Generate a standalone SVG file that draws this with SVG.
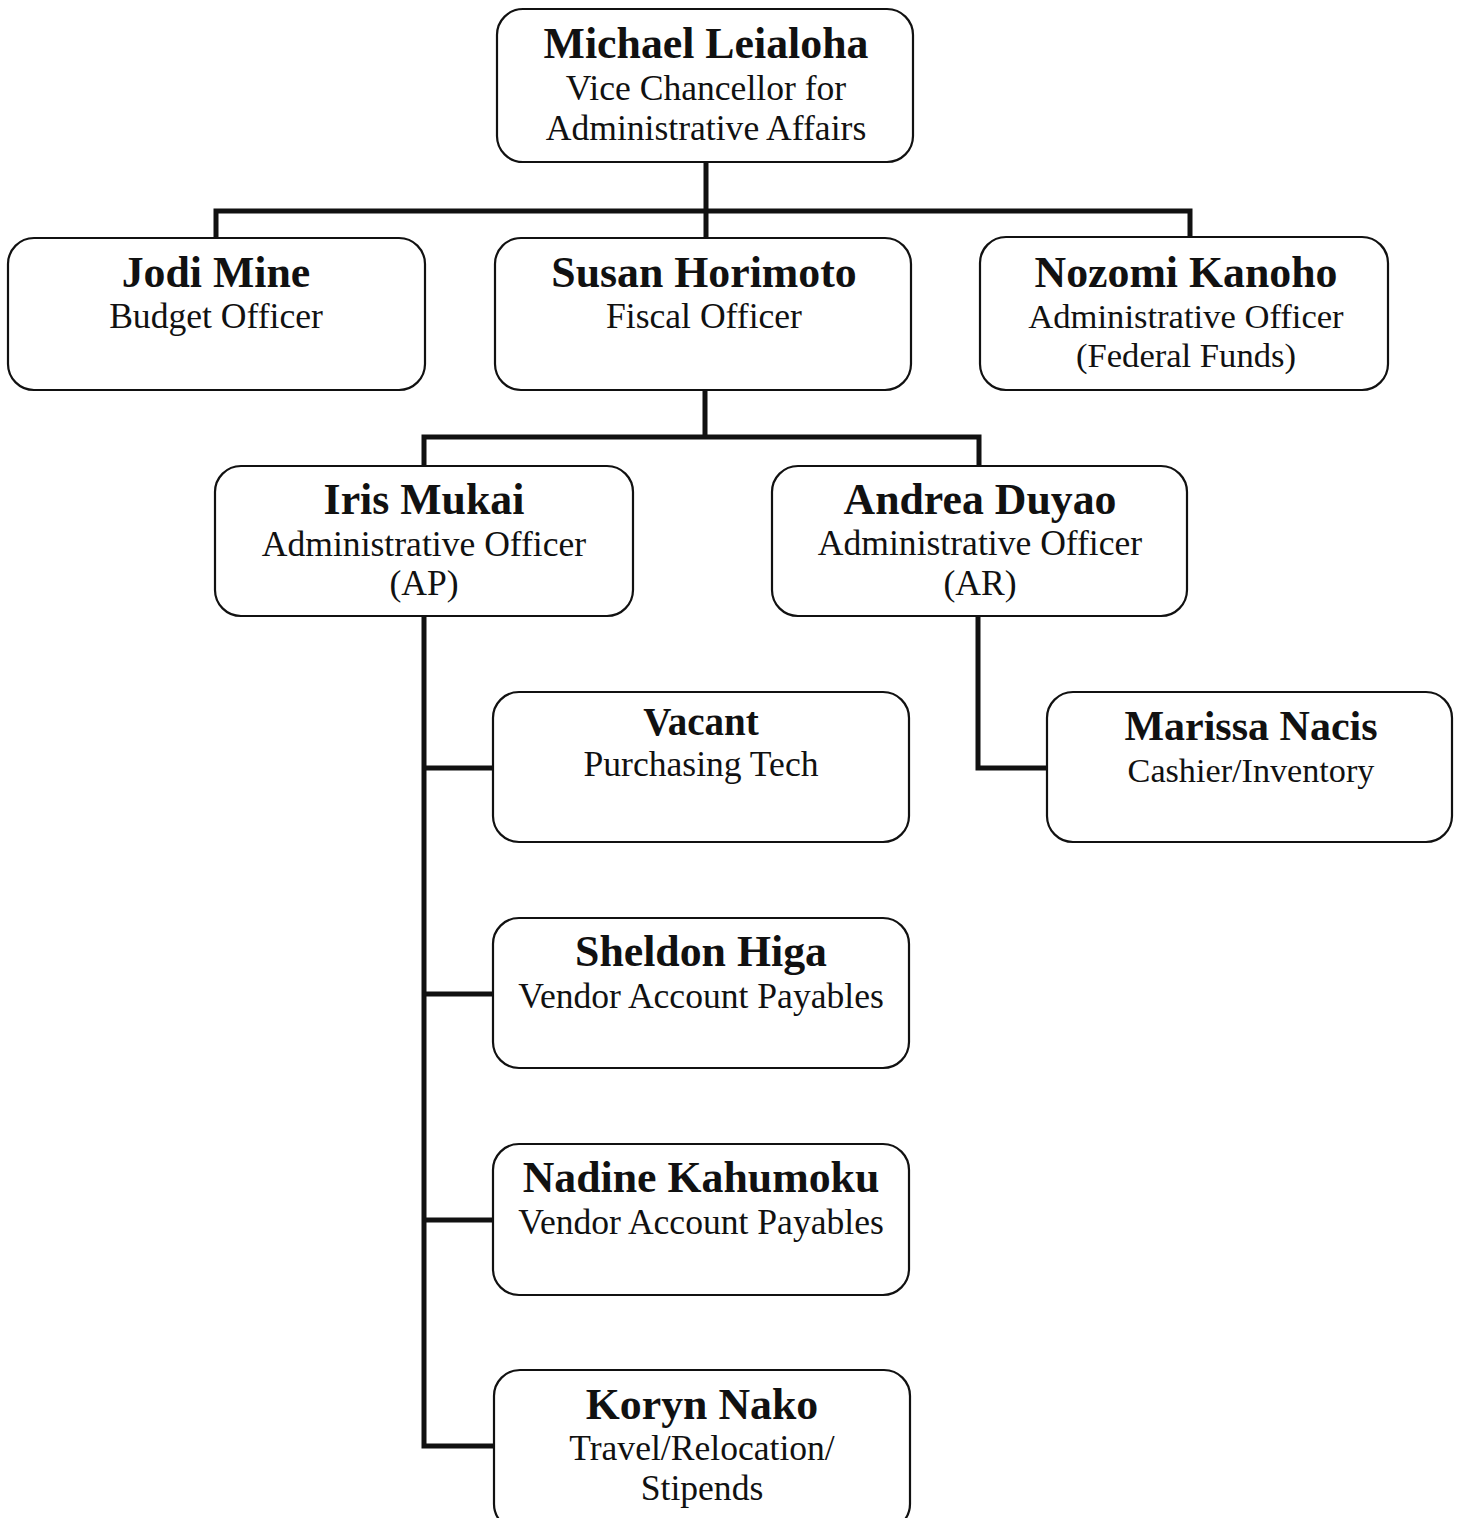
<svg xmlns="http://www.w3.org/2000/svg" width="1462" height="1518" viewBox="0 0 1462 1518">
<style>
.box{fill:#fff;stroke:#111;stroke-width:2.2}
.nm{font-family:"Liberation Serif","Times New Roman",serif;font-weight:bold;font-size:43.8px;fill:#111;text-anchor:middle}
.rl{font-family:"Liberation Serif","Times New Roman",serif;font-size:35.6px;fill:#111;text-anchor:middle}
.cn{fill:none;stroke:#111;stroke-width:5;stroke-linejoin:miter;stroke-linecap:square}
</style>
<rect width="1462" height="1518" fill="#fff"/>
<g id="connectors">
<path class="cn" d="M706,162 V211 M216,238 V211 H1190 V237 M706,211 V238"/>
<path class="cn" d="M705,390 V437 M424,466 V437 H979 V466"/>
<path class="cn" d="M424,616 V1446 H493 M424,768 H493 M424,994 H493 M424,1220 H493"/>
<path class="cn" d="M978,616 V768 H1047"/>
</g>
<g id="michael"><rect class="box" x="497" y="9" width="416" height="153" rx="26"/><text class="nm" x="706" y="58">Michael Leialoha</text><text class="rl" x="706" y="100">Vice Chancellor for</text><text class="rl" x="706" y="140">Administrative Affairs</text></g>
<g id="jodi"><rect class="box" x="8" y="238" width="417" height="152" rx="26"/><text class="nm" x="216" y="287">Jodi Mine</text><text class="rl" x="216" y="328">Budget Officer</text></g>
<g id="susan"><rect class="box" x="495" y="238" width="416" height="152" rx="26"/><text class="nm" x="704" y="287">Susan Horimoto</text><text class="rl" x="704" y="328">Fiscal Officer</text></g>
<g id="nozomi"><rect class="box" x="980" y="237" width="408" height="153" rx="26"/><text class="nm" x="1186" y="287">Nozomi Kanoho</text><text class="rl" x="1186" y="328" style="font-size:34.6px">Administrative Officer</text><text class="rl" x="1186" y="367" style="font-size:34.6px">(Federal Funds)</text></g>
<g id="iris"><rect class="box" x="215" y="466" width="418" height="150" rx="26"/><text class="nm" x="424" y="514">Iris Mukai</text><text class="rl" x="424" y="556">Administrative Officer</text><text class="rl" x="424" y="595">(AP)</text></g>
<g id="andrea"><rect class="box" x="772" y="466" width="415" height="150" rx="26"/><text class="nm" x="980" y="514">Andrea Duyao</text><text class="rl" x="980" y="555">Administrative Officer</text><text class="rl" x="980" y="595">(AR)</text></g>
<g id="vacant"><rect class="box" x="493" y="692" width="416" height="150" rx="26"/><text class="nm" x="701" y="735" style="font-size:39px">Vacant</text><text class="rl" x="701" y="776">Purchasing Tech</text></g>
<g id="marissa"><rect class="box" x="1047" y="692" width="405" height="150" rx="26"/><text class="nm" x="1251" y="740" style="font-size:42px">Marissa Nacis</text><text class="rl" x="1251" y="782" style="font-size:34.2px">Cashier/Inventory</text></g>
<g id="sheldon"><rect class="box" x="493" y="918" width="416" height="150" rx="26"/><text class="nm" x="701" y="966">Sheldon Higa</text><text class="rl" x="701" y="1008">Vendor Account Payables</text></g>
<g id="nadine"><rect class="box" x="493" y="1144" width="416" height="151" rx="26"/><text class="nm" x="701" y="1192">Nadine Kahumoku</text><text class="rl" x="701" y="1234">Vendor Account Payables</text></g>
<g id="koryn"><rect class="box" x="494" y="1370" width="416" height="160" rx="26"/><text class="nm" x="702" y="1419">Koryn Nako</text><text class="rl" x="702" y="1460">Travel/Relocation/</text><text class="rl" x="702" y="1500">Stipends</text></g>
</svg>
